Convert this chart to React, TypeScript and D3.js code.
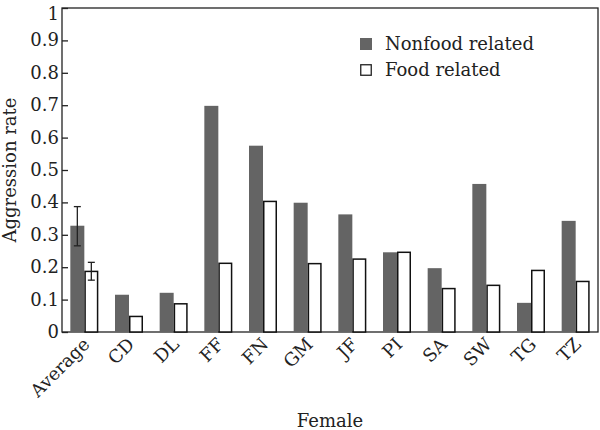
import React, {useRef, useEffect} from 'react';
import * as d3 from 'd3';

const categories = ['Average', 'CD', 'DL', 'FF', 'FN', 'GM', 'JF', 'PI', 'SA', 'SW', 'TG', 'TZ'];
const nonfood = [0.328, 0.115, 0.121, 0.698, 0.575, 0.399, 0.363, 0.246, 0.197, 0.457, 0.090, 0.343];
const food = [0.187, 0.048, 0.087, 0.212, 0.403, 0.211, 0.225, 0.246, 0.134, 0.144, 0.190, 0.156];
// error bars only on the "Average" group: [low, high]
const nonfoodErr = [0.266, 0.387];
const foodErr = [0.160, 0.215];
const yTicks = [0, 0.1, 0.2, 0.3, 0.4, 0.5, 0.6, 0.7, 0.8, 0.9, 1];
const seriesNames = ['Nonfood related', 'Food related'];

const W = 600, H = 430;
const margin = {left: 62, right: 2, top: 8, bottom: 98};
const FONT = '"DejaVu Serif", serif';
const FS = 18;
const GRAY = '#646464';

const App = () => {
  const svgRef = useRef<SVGSVGElement>(null);

  useEffect(() => {
    const svg = d3.select(svgRef.current);
    svg.selectAll('*').remove();

    const x = d3.scaleBand().domain(categories).range([margin.left, W - margin.right]).padding(0);
    const y = d3.scaleLinear().domain([0, 1]).range([H - margin.bottom, margin.top]);
    const barW = 14;
    const cx = (d: string) => (x(d) as number) + x.bandwidth() / 2;

    // frame
    svg.append('rect')
      .attr('x', margin.left).attr('y', margin.top)
      .attr('width', W - margin.left - margin.right)
      .attr('height', H - margin.top - margin.bottom)
      .attr('fill', 'none').attr('stroke', '#222').attr('stroke-width', 1.3);

    const yAxis = d3.axisLeft(y).tickValues(yTicks)
      .tickSizeInner(-6).tickSizeOuter(0).tickPadding(3)
      .tickFormat(d => d3.format('~g')(d as number));
    const gy = svg.append('g').attr('transform', `translate(${margin.left},0)`).call(yAxis);
    gy.select('.domain').remove();
    gy.selectAll('line').attr('stroke', '#222').attr('stroke-width', 1.3);
    gy.selectAll('text').attr('font-family', FONT).attr('font-size', FS).attr('fill', '#222')
      .attr('dy', (d: any) => d === 1 ? '0.62em' : '0.3em');

    const groups = svg.append('g').selectAll('g').data(categories).join('g');

    groups.append('rect')
      .attr('x', d => cx(d) - barW)
      .attr('y', (d, i) => y(nonfood[i]))
      .attr('width', barW)
      .attr('height', (d, i) => y(0) - y(nonfood[i]))
      .attr('fill', GRAY);

    groups.append('rect')
      .attr('x', d => cx(d) + 0.75)
      .attr('y', (d, i) => y(food[i]))
      .attr('width', barW - 1.5)
      .attr('height', (d, i) => y(0) - y(food[i]))
      .attr('fill', '#fff').attr('stroke', '#111').attr('stroke-width', 1.5);

    // error bars on Average
    const errs = [
      {ex: cx(categories[0]) - barW / 2, r: nonfoodErr},
      {ex: cx(categories[0]) + barW / 2, r: foodErr}
    ];
    errs.forEach(e => {
      const g = svg.append('g').attr('stroke', '#222').attr('stroke-width', 1.3);
      g.append('line').attr('x1', e.ex).attr('x2', e.ex).attr('y1', y(e.r[0])).attr('y2', y(e.r[1]));
      g.append('line').attr('x1', e.ex - 3.5).attr('x2', e.ex + 3.5).attr('y1', y(e.r[0])).attr('y2', y(e.r[0]));
      g.append('line').attr('x1', e.ex - 3.5).attr('x2', e.ex + 3.5).attr('y1', y(e.r[1])).attr('y2', y(e.r[1]));
    });

    // x tick labels, rotated 45deg
    const xl = svg.append('g').selectAll('g').data(categories).join('g')
      .attr('transform', d => `translate(${cx(d) + 2},${y(0) + 9})`);
    xl.append('text')
      .attr('transform', 'rotate(-45)')
      .attr('text-anchor', 'end')
      .attr('dy', '0.35em')
      .attr('font-family', FONT).attr('font-size', FS).attr('fill', '#222')
      .text(d => d);

    // axis titles
    svg.append('text')
      .attr('x', 330).attr('y', 427)
      .attr('text-anchor', 'middle')
      .attr('font-family', FONT).attr('font-size', FS).attr('fill', '#222')
      .text('Female');
    svg.append('text')
      .attr('transform', `translate(16,${(y(0) + y(1)) / 2}) rotate(-90)`)
      .attr('text-anchor', 'middle')
      .attr('font-family', FONT).attr('font-size', FS).attr('fill', '#222')
      .text('Aggression rate');

    // legend
    const leg = svg.append('g').selectAll('g').data(seriesNames).join('g')
      .attr('transform', (d, i) => `translate(360,${38 + i * 26})`);
    leg.append('rect')
      .attr('x', (d, i) => i === 0 ? 0 : 0.75).attr('y', (d, i) => i === 0 ? 0 : 0.75)
      .attr('width', (d, i) => i === 0 ? 12 : 10.5).attr('height', (d, i) => i === 0 ? 12 : 10.5)
      .attr('fill', (d, i) => i === 0 ? GRAY : '#fff')
      .attr('stroke', (d, i) => i === 0 ? 'none' : '#222').attr('stroke-width', 1.3);
    leg.append('text')
      .attr('x', 25).attr('y', 12)
      .attr('font-family', FONT).attr('font-size', FS).attr('fill', '#222')
      .text(d => d);
  }, []);

  return (
    <svg ref={svgRef} width={W} height={H}
      style={{position: 'absolute', left: 0, top: 0, background: '#fff'}} />
  );
};

export default App;
